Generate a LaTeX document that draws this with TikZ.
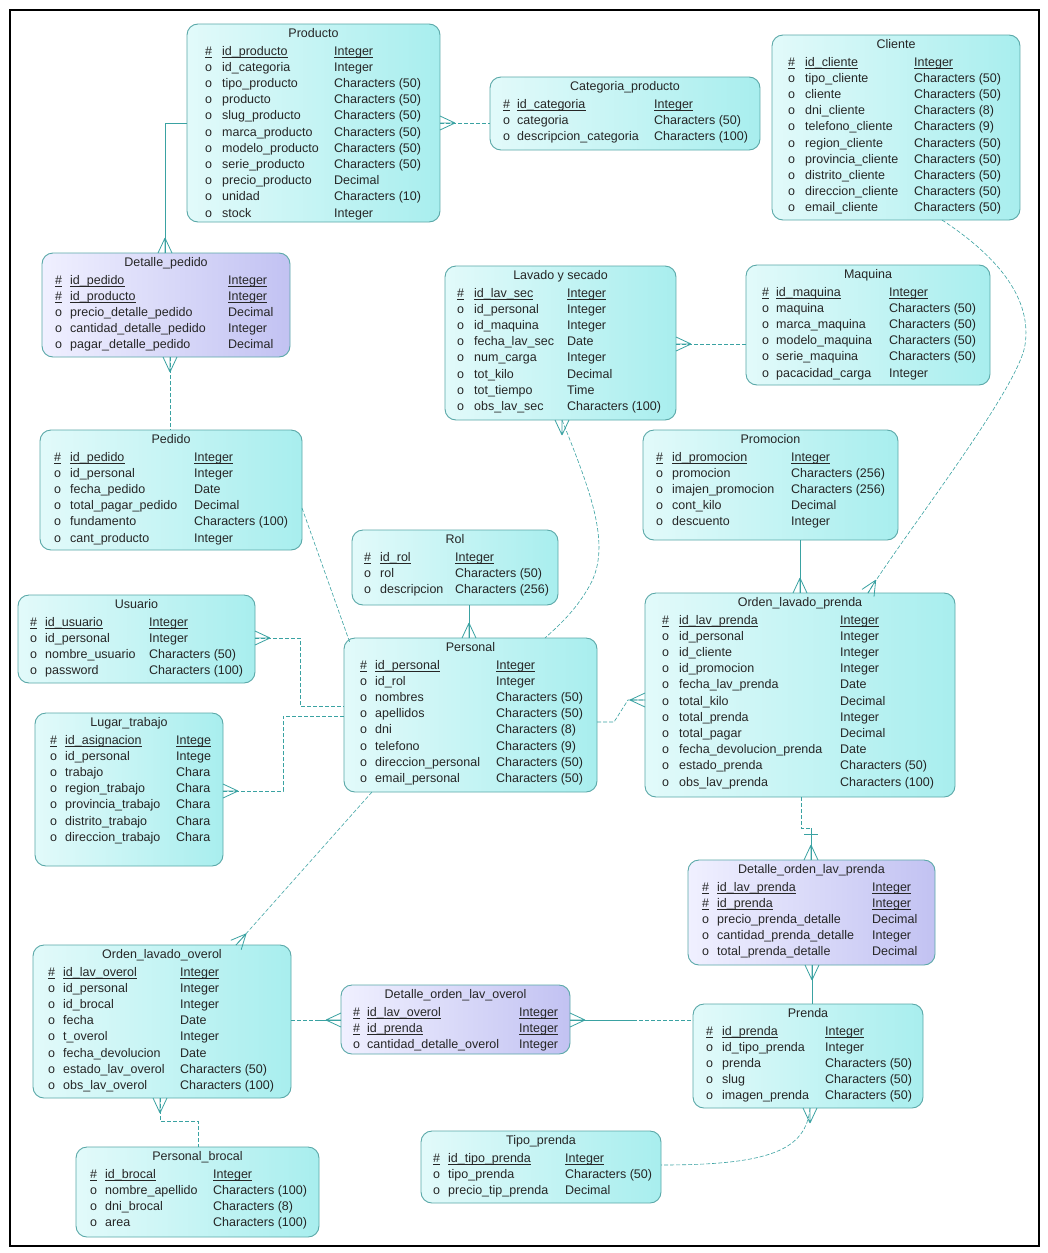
\documentclass[tikz,border=0pt]{standalone}
\usepackage{fontspec}
\setmainfont{Liberation Sans}
\definecolor{cyanA}{HTML}{E2FAFA}
\definecolor{cyanB}{HTML}{A8EEEE}
\definecolor{lavA}{HTML}{F0F0FF}
\definecolor{lavB}{HTML}{C2C2F2}
\definecolor{boxline}{HTML}{5AA8A8}
\definecolor{relc}{HTML}{3AA2A2}
\definecolor{ink}{HTML}{262626}

% table frame: name, style, x1, y1, x2, y2, title
\newcommand\tablebox[7]{%
  \node[#2, minimum width={#5-#3}, minimum height={#6-#4}] (#1) at (#3,#4) {};
  \node[ttl] (#1-title) at ({(#3+#5)/2},{#4+10}) {#7};
}
% columns: name, top y, x of marker, x of field, x of type, key rows, list field/type
\newcommand\fields[7]{%
  \foreach \nm/\ty [count=\i from 0] in {#7}{%
    \node[txt] (#1-m\i) at (#3,{#2+28+16.2*\i}) {\ifnum\i<#6 \#\else o\fi};
    \node[txt] (#1-n\i) at (#4,{#2+28+16.2*\i}) {\nm};
    \node[txt] (#1-t\i) at (#5,{#2+28+16.2*\i}) {\ty};
    \ifnum\i<#6
      \draw[keyline] ([yshift=-1.8pt]#1-m\i.base west) -- ([yshift=-1.8pt]#1-m\i.base east);
      \draw[keyline] ([yshift=-1.8pt]#1-n\i.base west) -- ([yshift=-1.8pt]#1-n\i.base east);
      \draw[keyline] ([yshift=-1.8pt]#1-t\i.base west) -- ([yshift=-1.8pt]#1-t\i.base east);
    \fi
  }%
}

\begin{document}
\begin{tikzpicture}[x=1pt,y=-1pt,
  tbl/.style={draw=boxline, line width=0.9pt, rounded corners=11pt,
    left color=cyanA, right color=cyanB, anchor=north west,
    inner sep=0pt, outer sep=0pt},
  assoc/.style={tbl, left color=lavA, right color=lavB},
  txt/.style={inner sep=0pt, anchor=west, text height=9pt, text depth=3pt,
    text=ink, font=\fontsize{12.5}{15}\selectfont},
  ttl/.style={txt, anchor=center},
  keyline/.style={draw=ink, line width=0.6pt},
  rel/.style={draw=relc, line width=0.6pt},
  reld/.style={rel, dash pattern=on 4pt off 2pt},
  idrel/.style={rel, line width=0.9pt},
  crow/.pic={\draw[relc, line width=0.8pt] (-15,0) -- (0,-7) (-15,0) -- (0,7) (-15,0) -- (0,0);}
]
\useasboundingbox (0,0) rectangle (1048,1253);
\fill[white] (0,0) rectangle (1048,1253);
\draw[line width=2pt] (10,10) rectangle (1039,1246);

% ---------- tables ----------
\tablebox{producto}{tbl}{187}{24}{440}{222}{Producto}
\fields{producto}{24}{205}{222}{334}{1}{id\_producto/Integer, id\_categoria/Integer,
  tipo\_producto/Characters (50), producto/Characters (50), slug\_producto/Characters (50),
  marca\_producto/Characters (50), modelo\_producto/Characters (50), serie\_producto/Characters (50),
  precio\_producto/Decimal, unidad/Characters (10), stock/Integer}

\tablebox{categoria}{tbl}{490}{77}{760}{150}{Categoria\_producto}
\fields{categoria}{77}{503}{517}{654}{1}{id\_categoria/Integer, categoria/Characters (50),
  descripcion\_categoria/Characters (100)}

\tablebox{cliente}{tbl}{772}{35}{1020}{220}{Cliente}
\fields{cliente}{35}{788}{805}{914}{1}{id\_cliente/Integer, tipo\_cliente/Characters (50),
  cliente/Characters (50), dni\_cliente/Characters (8), telefono\_cliente/Characters (9),
  region\_cliente/Characters (50), provincia\_cliente/Characters (50), distrito\_cliente/Characters (50),
  direccion\_cliente/Characters (50), email\_cliente/Characters (50)}

\tablebox{dpedido}{assoc}{42}{253}{290}{357}{Detalle\_pedido}
\fields{dpedido}{253}{55}{70}{228}{2}{id\_pedido/Integer, id\_producto/Integer,
  precio\_detalle\_pedido/Decimal, cantidad\_detalle\_pedido/Integer, pagar\_detalle\_pedido/Decimal}

\tablebox{lavado}{tbl}{445}{266}{676}{420}{Lavado y secado}
\fields{lavado}{266}{457}{474}{567}{1}{id\_lav\_sec/Integer, id\_personal/Integer,
  id\_maquina/Integer, fecha\_lav\_sec/Date, num\_carga/Integer, tot\_kilo/Decimal,
  tot\_tiempo/Time, obs\_lav\_sec/Characters (100)}

\tablebox{maquina}{tbl}{746}{265}{990}{385}{Maquina}
\fields{maquina}{265}{762}{776}{889}{1}{id\_maquina/Integer, maquina/Characters (50),
  marca\_maquina/Characters (50), modelo\_maquina/Characters (50), serie\_maquina/Characters (50),
  pacacidad\_carga/Integer}

\tablebox{pedido}{tbl}{40}{430}{302}{550}{Pedido}
\fields{pedido}{430}{54}{70}{194}{1}{id\_pedido/Integer, id\_personal/Integer,
  fecha\_pedido/Date, total\_pagar\_pedido/Decimal, fundamento/Characters (100), cant\_producto/Integer}

\tablebox{promocion}{tbl}{643}{430}{898}{540}{Promocion}
\fields{promocion}{430}{656}{672}{791}{1}{id\_promocion/Integer, promocion/Characters (256),
  imajen\_promocion/Characters (256), cont\_kilo/Decimal, descuento/Integer}

\tablebox{rol}{tbl}{352}{530}{558}{605}{Rol}
\fields{rol}{530}{364}{380}{455}{1}{id\_rol/Integer, rol/Characters (50), descripcion/Characters (256)}

\tablebox{usuario}{tbl}{18}{595}{255}{683}{Usuario}
\fields{usuario}{595}{30}{45}{149}{1}{id\_usuario/Integer, id\_personal/Integer,
  nombre\_usuario/Characters (50), password/Characters (100)}

\tablebox{personal}{tbl}{344}{638}{597}{792}{Personal}
\fields{personal}{638}{360}{375}{496}{1}{id\_personal/Integer, id\_rol/Integer,
  nombres/Characters (50), apellidos/Characters (50), dni/Characters (8), telefono/Characters (9),
  direccion\_personal/Characters (50), email\_personal/Characters (50)}

\tablebox{olp}{tbl}{645}{593}{955}{797}{Orden\_lavado\_prenda}
\fields{olp}{593}{662}{679}{840}{1}{id\_lav\_prenda/Integer, id\_personal/Integer,
  id\_cliente/Integer, id\_promocion/Integer, fecha\_lav\_prenda/Date, total\_kilo/Decimal,
  total\_prenda/Integer, total\_pagar/Decimal, fecha\_devolucion\_prenda/Date,
  estado\_prenda/Characters (50), obs\_lav\_prenda/Characters (100)}

\tablebox{lugar}{tbl}{35}{713}{223}{866}{Lugar\_trabajo}
\fields{lugar}{713}{50}{65}{176}{1}{id\_asignacion/Intege, id\_personal/Intege,
  trabajo/Chara, region\_trabajo/Chara, provincia\_trabajo/Chara, distrito\_trabajo/Chara,
  direccion\_trabajo/Chara}

\tablebox{dolp}{assoc}{688}{860}{935}{965}{Detalle\_orden\_lav\_prenda}
\fields{dolp}{860}{702}{717}{872}{2}{id\_lav\_prenda/Integer, id\_prenda/Integer,
  precio\_prenda\_detalle/Decimal, cantidad\_prenda\_detalle/Integer, total\_prenda\_detalle/Decimal}

\tablebox{olo}{tbl}{33}{945}{291}{1098}{Orden\_lavado\_overol}
\fields{olo}{945}{48}{63}{180}{1}{id\_lav\_overol/Integer, id\_personal/Integer,
  id\_brocal/Integer, fecha/Date, t\_overol/Integer, fecha\_devolucion/Date,
  estado\_lav\_overol/Characters (50), obs\_lav\_overol/Characters (100)}

\tablebox{dolo}{assoc}{341}{985}{570}{1054}{Detalle\_orden\_lav\_overol}
\fields{dolo}{985}{353}{367}{519}{2}{id\_lav\_overol/Integer, id\_prenda/Integer,
  cantidad\_detalle\_overol/Integer}

\tablebox{prenda}{tbl}{693}{1004}{923}{1108}{Prenda}
\fields{prenda}{1004}{706}{722}{825}{1}{id\_prenda/Integer, id\_tipo\_prenda/Integer,
  prenda/Characters (50), slug/Characters (50), imagen\_prenda/Characters (50)}

\tablebox{tipo}{tbl}{421}{1131}{661}{1203}{Tipo\_prenda}
\fields{tipo}{1131}{433}{448}{565}{1}{id\_tipo\_prenda/Integer, tipo\_prenda/Characters (50),
  precio\_tip\_prenda/Decimal}

\tablebox{brocal}{tbl}{76}{1147}{319}{1237}{Personal\_brocal}
\fields{brocal}{1147}{90}{105}{213}{1}{id\_brocal/Integer, nombre\_apellido/Characters (100),
  dni\_brocal/Characters (8), area/Characters (100)}

% ---------- relationships ----------
% Producto - Detalle_pedido
\draw[idrel] (producto.west |- 0,123) -- (165,123) -- (dpedido.north -| 165,0);
\pic[rotate=-90] at (dpedido.north -| 165,0) {crow};
% Producto - Categoria_producto
\draw[reld] (producto.east |- 0,123) -- (categoria.west |- 0,123);
\pic[rotate=180] at (producto.east |- 0,123) {crow};
% Detalle_pedido - Pedido
\draw[reld] (dpedido.south -| 170,0) -- (pedido.north -| 170,0);
\pic[rotate=90] at (dpedido.south -| 170,0) {crow};
% Lavado y secado - Maquina
\draw[reld] (lavado.east |- 0,344) -- (maquina.west |- 0,344);
\pic[rotate=180] at (lavado.east |- 0,344) {crow};
% Lavado y secado - Personal
\draw[reld] (lavado.south -| 562,0) .. controls (590,490) and (612,545) .. (590,585)
  .. controls (575,612) and (556,628) .. (personal.north -| 545,0);
\pic[rotate=90] at (lavado.south -| 562,0) {crow};
% Cliente - Orden_lavado_prenda
\draw[reld] (cliente.south -| 942,0) .. controls (1000,258) and (1032,300) .. (1025,345)
  .. controls (1018,390) and (900,540) .. (olp.north -| 868,0);
\pic[rotate=-121] at (olp.north -| 868,0) {crow};
% Promocion - Orden_lavado_prenda
\draw[rel] (promocion.south -| 800,0) -- (olp.north -| 800,0);
\pic[rotate=-90] at (olp.north -| 800,0) {crow};
% Rol - Personal
\draw[rel] (rol.south -| 469,0) -- (personal.north -| 469,0);
\pic[rotate=-90] at (personal.north -| 469,0) {crow};
% Pedido - Personal
\draw[reld] (pedido.east |- 0,508) -- (350,643);
% Usuario - Personal
\draw[reld] (usuario.east |- 0,638) -- (300,638) -- (300,706) -- (personal.west |- 0,706);
\pic[rotate=180] at (usuario.east |- 0,638) {crow};
% Lugar_trabajo - Personal
\draw[reld] (lugar.east |- 0,791) -- (283,791) -- (283,716) -- (personal.west |- 0,716);
\pic[rotate=180] at (lugar.east |- 0,791) {crow};
% Personal - Orden_lavado_prenda
\draw[reld] (personal.east |- 0,722) -- (614,722) -- (628,700) -- (olp.west |- 0,700);
\pic at (olp.west |- 0,700) {crow};
% Personal - Orden_lavado_overol
\draw[reld] (personal.south -| 372,0) -- (olo.north -| 236,0);
\pic[rotate=-132] at (olo.north -| 236,0) {crow};
% Orden_lavado_prenda - Detalle_orden_lav_prenda
\draw[reld] (olp.south -| 801,0) -- (801,828) -- (811,828);
\draw[idrel] (811,828) -- (dolp.north -| 811,0);
\draw[idrel] (804,834) -- (818,834);
\pic[rotate=-90] at (dolp.north -| 811,0) {crow};
% Detalle_orden_lav_prenda - Prenda
\draw[idrel] (dolp.south -| 812,0) -- (prenda.north -| 812,0);
\pic[rotate=90] at (dolp.south -| 812,0) {crow};
% Orden_lavado_overol - Detalle_orden_lav_overol
\draw[reld] (olo.east |- 0,1020) -- (316,1020);
\draw[idrel] (316,1020) -- (dolo.west |- 0,1020);
\pic at (dolo.west |- 0,1020) {crow};
% Detalle_orden_lav_overol - Prenda
\draw[idrel] (dolo.east |- 0,1020) -- (633,1020);
\draw[reld] (633,1020) -- (prenda.west |- 0,1020);
\pic[rotate=180] at (dolo.east |- 0,1020) {crow};
% Personal_brocal - Orden_lavado_overol
\draw[reld] (olo.south -| 160,0) -- (160,1121) -- (198,1121) -- (brocal.north -| 198,0);
\pic[rotate=90] at (olo.south -| 160,0) {crow};
% Tipo_prenda - Prenda
\draw[reld] (prenda.south -| 810,0) .. controls (806,1150) and (770,1165) .. (tipo.east |- 0,1165);
\pic[rotate=90] at (prenda.south -| 810,0) {crow};
\end{tikzpicture}
\end{document}
